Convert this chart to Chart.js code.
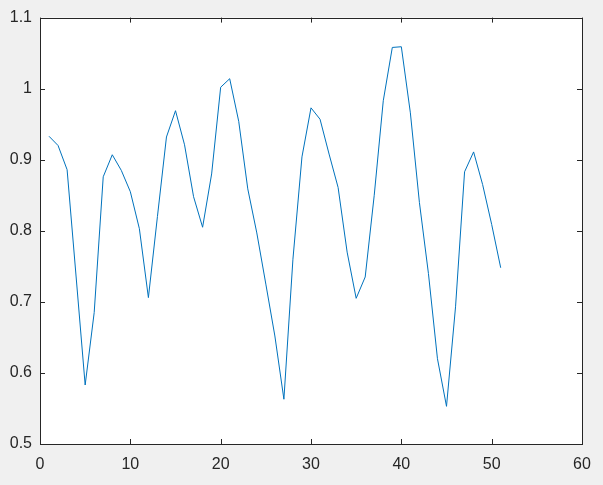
<!DOCTYPE html>
<html>
<head>
<meta charset="utf-8">
<script src="https://cdn.jsdelivr.net/npm/chart.js@4/dist/chart.umd.min.js"></script>
<style>
  html, body { margin: 0; padding: 0; background: #f0f0f0; }
  #wrap { width: 603px; height: 485px; }
</style>
</head>
<body>
<div id="wrap"><canvas id="c" width="603" height="485"></canvas></div>
<script>
const xValues = [1,2,3,4,5,6,7,8,9,10,11,12,13,14,15,16,17,18,19,20,21,22,23,24,25,26,27,28,29,30,31,32,33,34,35,36,37,38,39,40,41,42,43,44,45,46,47,48,49,50,51];
const yValues = [0.933,0.920,0.886,0.735,0.583,0.685,0.876,0.907,0.885,0.855,0.803,0.706,0.820,0.932,0.969,0.921,0.848,0.805,0.880,1.002,1.014,0.954,0.859,0.797,0.725,0.652,0.563,0.760,0.904,0.973,0.957,0.908,0.861,0.770,0.705,0.735,0.850,0.983,1.058,1.059,0.966,0.840,0.740,0.620,0.553,0.693,0.883,0.911,0.865,0.809,0.748];
const xTicks = [0,10,20,30,40,50,60];
const yTicks = [0.5,0.6,0.7,0.8,0.9,1.0,1.1];

const axisColor = '#262626';
const fontSpec = { family: "'Liberation Sans', Arial, Helvetica, sans-serif", size: 16 };

const boxPlugin = {
  id: 'box',
  beforeDraw(chart) {
    const a = chart.chartArea, ctx = chart.ctx;
    ctx.save();
    ctx.fillStyle = '#ffffff';
    ctx.fillRect(a.left, a.top, a.right - a.left, a.bottom - a.top);
    ctx.restore();
  },
  afterDraw(chart) {
    const a = chart.chartArea, ctx = chart.ctx;
    const xs = chart.scales.x, ys = chart.scales.y;
    const tl = 5;
    ctx.save();
    ctx.strokeStyle = axisColor;
    ctx.lineWidth = 1;
    ctx.beginPath();
    xTicks.forEach(v => {
      const px = Math.round(xs.getPixelForValue(v)) + 0.5;
      ctx.moveTo(px, a.bottom); ctx.lineTo(px, a.bottom - tl);
      ctx.moveTo(px, a.top); ctx.lineTo(px, a.top + tl);
    });
    yTicks.forEach(v => {
      const py = Math.round(ys.getPixelForValue(v)) + 0.5;
      ctx.moveTo(a.left, py); ctx.lineTo(a.left + tl, py);
      ctx.moveTo(a.right, py); ctx.lineTo(a.right - tl, py);
    });
    ctx.stroke();
    ctx.strokeRect(Math.round(a.left) + 0.5, Math.round(a.top) + 0.5, Math.round(a.right - a.left), Math.round(a.bottom - a.top));
    ctx.restore();
  }
};

new Chart(document.getElementById('c'), {
  type: 'line',
  data: {
    datasets: [{
      data: xValues.map((x, i) => ({ x: x, y: yValues[i] })),
      borderColor: '#0072BD',
      borderWidth: 1,
      pointRadius: 0,
      tension: 0,
      fill: false
    }]
  },
  options: {
    responsive: false,
    animation: false,
    devicePixelRatio: 1,
    layout: { padding: { top: 17, right: 21, bottom: 0, left: 0 } },
    plugins: { legend: { display: false }, tooltip: { enabled: false } },
    scales: {
      x: {
        type: 'linear', min: 0, max: 60,
        afterFit(s) { s.height = 41; },
        afterBuildTicks(s) { s.ticks = xTicks.map(v => ({ value: v })); },
        grid: { display: true, drawOnChartArea: false, drawTicks: false },
        border: { display: false },
        ticks: { color: axisColor, font: fontSpec, padding: 11, maxRotation: 0, callback: v => String(v) }
      },
      y: {
        type: 'linear', min: 0.5, max: 1.1,
        afterFit(s) { s.width = 40; },
        afterBuildTicks(s) { s.ticks = yTicks.map(v => ({ value: v })); },
        grid: { display: true, drawOnChartArea: false, drawTicks: false },
        border: { display: false },
        ticks: { color: axisColor, font: fontSpec, padding: 8, callback: v => String(+(+v).toFixed(2)) }
      }
    }
  },
  plugins: [boxPlugin]
});
</script>
</body>
</html>
